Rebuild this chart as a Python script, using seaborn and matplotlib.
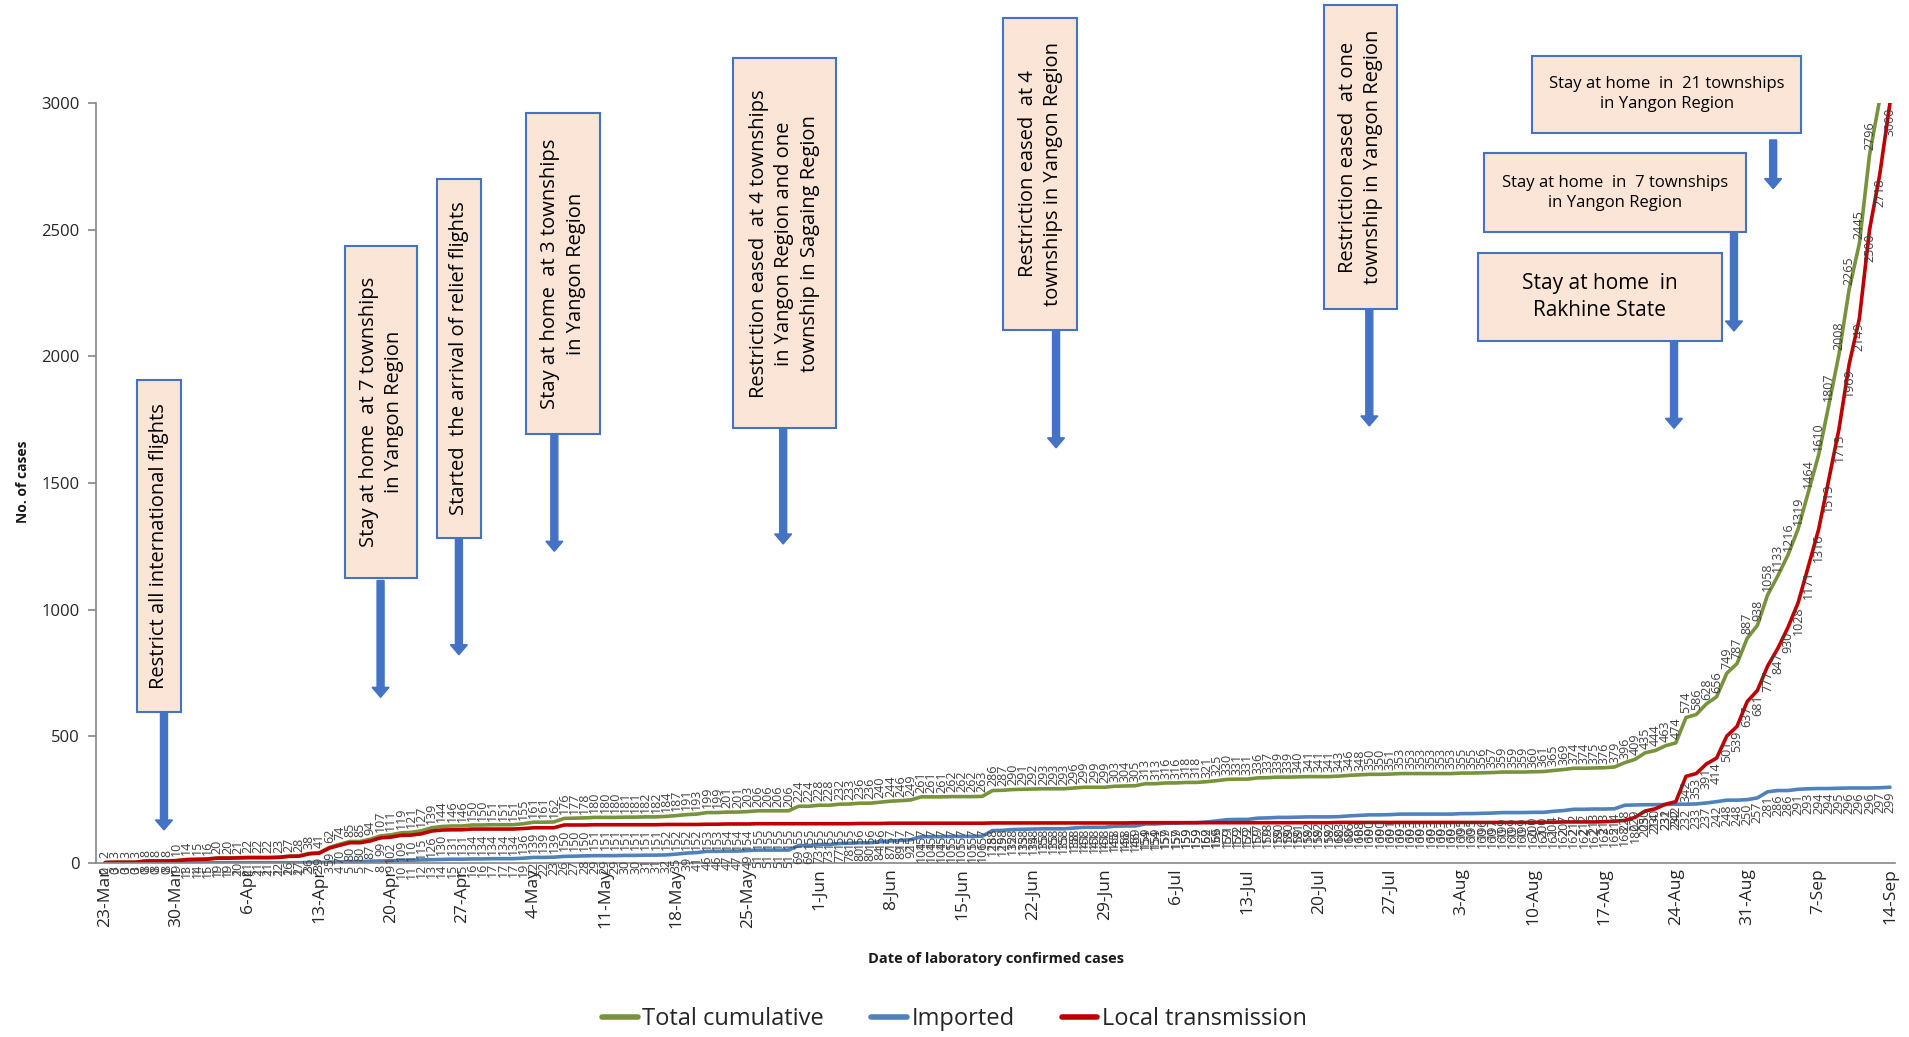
import numpy as np
import pandas as pd
import matplotlib
matplotlib.use("Agg")
import matplotlib.pyplot as plt
import seaborn as sns
from matplotlib.patches import Rectangle, FancyArrow
from matplotlib.lines import Line2D

# ---------------- data ----------------
start_date = "2020-03-23"
series_names = ["Total cumulative", "Imported", "Local transmission"]

total = [2, 3, 3, 3, 8, 8, 8, 10, 14, 15, 16, 20, 20, 21, 22, 22, 22, 23, 27, 28,
         38, 41, 62, 74, 85, 85, 94, 107, 111, 119, 121, 127, 139, 144, 146, 146, 150, 150, 151, 151,
         151, 155, 161, 161, 162, 176, 177, 178, 180, 180, 180, 181, 181, 182, 182, 184, 187, 191, 193, 199,
         199, 201, 201, 203, 206, 206, 206, 206, 224, 224, 228, 228, 232, 233, 236, 236, 240, 244, 246, 249,
         261, 261, 261, 262, 262, 262, 263, 286, 287, 290, 291, 292, 293, 293, 293, 296, 299, 299, 299, 303,
         304, 305, 313, 313, 316, 316, 318, 318, 321, 325, 330, 331, 331, 336, 337, 339, 339, 340, 341, 341,
         341, 343, 346, 348, 350, 350, 351, 353, 353, 353, 353, 353, 353, 355, 355, 356, 357, 359, 359, 359,
         360, 361, 365, 369, 374, 374, 375, 376, 379, 396, 409, 435, 444, 463, 474, 574, 586, 628, 656, 749,
         787, 887, 938, 1058, 1133, 1216, 1319, 1464, 1610, 1807, 2008, 2265, 2445, 2796, 3015, 3299]

imported = [0, 0, 0, 0, 0, 0, 0, 1, 1, 1, 1, 1, 1, 1, 1, 1, 1, 1, 1, 1,
            2, 2, 3, 4, 5, 5, 7, 8, 9, 10, 11, 12, 13, 14, 15, 15, 16, 16, 17, 17,
            17, 19, 22, 22, 23, 26, 27, 28, 29, 29, 29, 30, 30, 31, 31, 32, 35, 39, 41, 46,
            46, 47, 47, 49, 51, 51, 51, 51, 69, 69, 73, 73, 77, 78, 80, 80, 84, 87, 89, 92,
            104, 104, 104, 105, 105, 105, 106, 128, 129, 132, 133, 134, 135, 135, 135, 138, 141, 141, 141, 145,
            146, 146, 154, 154, 157, 157, 159, 159, 162, 166, 171, 172, 172, 177, 178, 180, 180, 181, 182, 182,
            182, 183, 186, 188, 190, 190, 191, 193, 193, 193, 193, 193, 193, 195, 195, 196, 197, 199, 199, 199,
            200, 200, 204, 207, 212, 212, 213, 213, 214, 228, 229, 230, 230, 231, 232, 232, 233, 237, 242, 248,
            248, 250, 257, 281, 286, 286, 291, 293, 294, 294, 295, 296, 296, 296, 297, 299]

local = [2, 3, 3, 3, 8, 8, 8, 9, 13, 14, 15, 19, 19, 20, 21, 21, 21, 22, 26, 27,
         36, 39, 59, 70, 80, 80, 87, 99, 102, 109, 110, 115, 126, 130, 131, 131, 134, 134, 134, 134,
         134, 136, 139, 139, 139, 150, 150, 150, 151, 151, 151, 151, 151, 151, 151, 152, 152, 152, 152, 153,
         153, 154, 154, 154, 155, 155, 155, 155, 155, 155, 155, 155, 155, 155, 156, 156, 156, 157, 157, 157,
         157, 157, 157, 157, 157, 157, 157, 158, 158, 158, 158, 158, 158, 158, 158, 158, 158, 158, 158, 158,
         158, 159, 159, 159, 159, 159, 159, 159, 159, 159, 159, 159, 159, 159, 159, 159, 159, 159, 159, 159,
         159, 160, 160, 160, 160, 160, 160, 160, 160, 160, 160, 160, 160, 160, 160, 160, 160, 160, 160, 160,
         160, 161, 161, 162, 162, 162, 162, 163, 165, 168, 180, 205, 214, 232, 242, 342, 353, 391, 414, 501,
         539, 637, 681, 777, 847, 930, 1028, 1171, 1316, 1513, 1713, 1969, 2149, 2500, 2718, 3000]

y_ticks = [0, 500, 1000, 1500, 2000, 2500, 3000]

events = [
    "Restrict all international flights",
    "Stay at home  at 7 townships\nin Yangon Region",
    "Started  the arrival of relief flights",
    "Stay at home  at 3 townships\nin Yangon Region",
    "Restriction eased  at 4 townships\nin Yangon Region and one\ntownship in Sagaing Region",
    "Restriction eased  at 4\ntownships in Yangon Region",
    "Restriction eased  at one\ntownship in Yangon Region",
    "Stay at home  in  21 townships\nin Yangon Region",
    "Stay at home  in  7 townships\nin Yangon Region",
    "Stay at home  in\nRakhine State",
]

# ---------------- styling / layout ----------------
colors = {"Total cumulative": "#77933C", "Imported": "#4F81BD", "Local transmission": "#C00000"}

n = len(total)
days = np.arange(n)
dates = pd.date_range(start_date, periods=n, freq="D")
df = pd.DataFrame({
    "day": np.tile(days, 3),
    "cases": total + imported + local,
    "series": np.repeat(series_names, n),
})

sns.set_theme(style="white")
plt.rcParams["font.family"] = ["Open Sans", "DejaVu Sans"]

W, H = 19.09, 10.37
fig = plt.figure(figsize=(W, H), dpi=100)
ax = fig.add_axes([0.0503, 0.1678, 0.9424, 0.7329])

sns.lineplot(data=df, x="day", y="cases", hue="series", hue_order=series_names,
             palette=colors, linewidth=2.6, ax=ax, legend=False)

ax.set_xlim(-0.9, n - 0.5)
ax.set_ylim(0, 3000)
ax.set_yticks(y_ticks)
ax.set_yticklabels([str(v) for v in y_ticks], fontsize=12, color="#262626")
tick_pos = list(range(0, n, 7))
ax.set_xticks(tick_pos)
ax.set_xticklabels([f"{dates[i].day}-{dates[i].strftime('%b')}" for i in tick_pos],
                   rotation=90, fontsize=12.5, color="#262626")
ax.tick_params(axis="y", length=6, color="#868686", width=1.2, left=True, pad=6)
ax.tick_params(axis="x", length=0, pad=4)
for s in ["top", "right"]:
    ax.spines[s].set_visible(False)
for s in ["left", "bottom"]:
    ax.spines[s].set_color("#868686")
    ax.spines[s].set_linewidth(1.2)
ax.set_xlabel("")
ax.set_ylabel("")
ax.grid(False)

# data labels
label_specs = [(total, "bottom", 3), (imported, "top", -3), (local, "top", -3)]
for vals, va, off in label_specs:
    for i, v in enumerate(vals):
        if v > 3000:
            continue
        ax.annotate(str(v), (days[i], v), xytext=(0, off), textcoords="offset points",
                    rotation=90, ha="center", va=va, fontsize=9, color="#404040",
                    annotation_clip=False)

fig.text(0.522, 0.075, "Date of laboratory confirmed cases", ha="center", va="center",
         fontsize=10.5, fontweight="bold", color="#1a1a1a")
fig.text(0.012, 0.535, "No. of cases", ha="center", va="center", rotation=90,
         fontsize=10, fontweight="bold", color="#1a1a1a")

# legend
handles = [Line2D([0], [0], color=colors[s], lw=4) for s in series_names]
fig.legend(handles, series_names, loc="center", bbox_to_anchor=(0.5, 0.017), ncol=3,
           frameon=False, fontsize=17, handlelength=1.5, handletextpad=0.2, columnspacing=2.0)

# annotation boxes (reference-image pixel geometry)
KX, KY = 1.2237, 1.217
def to_in(x, y):
    return x * KX / 100.0, H - y * KY / 100.0

box_geom = [
    ((112, 312, 148, 585), 90, 14.5, (134, 585, 682)),
    ((282, 202, 341, 475), 90, 14.5, (311, 477, 573)),
    ((357, 147, 393, 442), 90, 14.5, (375, 442, 538)),
    ((430, 93, 490, 357), 90, 14.5, (453, 357, 453)),
    ((599, 48, 683, 352), 90, 14.5, (640, 352, 447)),
    ((820, 15, 880, 271), 90, 14.5, (863, 271, 368)),
    ((1082, 4, 1142, 254), 90, 14.5, (1119, 254, 350)),
    ((1252, 46, 1472, 109), 0, 12, (1449, 115, 155)),
    ((1213, 126, 1427, 191), 0, 12, (1417, 191, 272)),
    ((1208, 208, 1407, 280), 0, 15, (1368, 280, 352)),
]
tr = fig.dpi_scale_trans
for text, ((x0, y0, x1, y1), rot, fs, (axx, ys, ye)) in zip(events, box_geom):
    ax0, ay0 = to_in(x0, y0)
    ax1, ay1 = to_in(x1, y1)
    fig.patches.append(Rectangle((ax0, ay1), ax1 - ax0, ay0 - ay1, transform=tr,
                                 facecolor="#FBE5D6", edgecolor="#4472C4", lw=1.5, zorder=5))
    cx, cy = to_in((x0 + x1) / 2, (y0 + y1) / 2)
    fig.text(cx, cy, text, transform=tr, rotation=rot, ha="center", va="center",
             multialignment="center", fontsize=fs, color="#000000", linespacing=1.35, zorder=6)
    sx, sy = to_in(axx, ys)
    _, ey = to_in(axx, ye)
    fig.patches.append(FancyArrow(sx, sy, 0, ey - sy, width=0.07, head_width=0.17,
                                  head_length=0.10, length_includes_head=True,
                                  color="#4472C4", transform=tr, zorder=5))

fig.savefig("out.png", dpi=100)
